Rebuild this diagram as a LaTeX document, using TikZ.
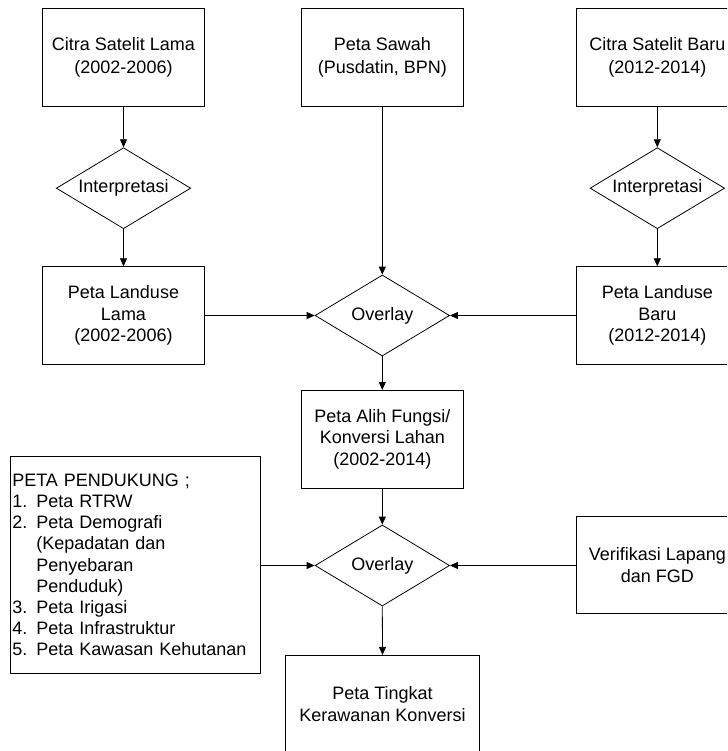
\documentclass[tikz,border=0pt]{standalone}
\usepackage{fontspec}
\setmainfont{Liberation Sans}
\usetikzlibrary{shapes.geometric,arrows.meta}
\begin{document}
\begin{tikzpicture}[x=1pt,y=-1pt,
  every node/.style={font=\fontsize{18}{21.6}\selectfont},
  box/.style={draw, line width=0.8pt, inner sep=0pt, align=center,
    minimum width=161.5pt, minimum height=97.6pt},
  topbox/.style={box, font=\fontsize{18}{23.5}\selectfont, minimum height=98.4pt},
  dec/.style={draw, shape=diamond, line width=0.8pt, inner sep=0pt,
    minimum width=134.5pt, minimum height=81pt, shape aspect=1.667},
  conn/.style={line width=0.8pt, -{Triangle[length=8pt,width=7pt]}},
]
\clip (0,0) rectangle (727,751);
\fill[white] (0,0) rectangle (727,751);

% top row
\node[topbox] (citraL) at (123.5,57.5) {Citra Satelit Lama\\(2002-2006)};
\node[topbox] (sawah)  at (382.3,57.5) {Peta Sawah\\(Pusdatin, BPN)};
\node[topbox] (citraB) at (657.3,57.5) {Citra Satelit Baru\\(2012-2014)};

% interpretation
\node[dec] (intL) at (123.5,188.2) {Interpretasi};
\node[dec] (intB) at (657.3,188.2) {Interpretasi};

% landuse
\node[box] (luL) at (123.5,315.5) {Peta Landuse\\Lama\\(2002-2006)};
\node[box] (luB) at (657.3,315.5) {Peta Landuse\\Baru\\(2012-2014)};

\node[dec] (ov1) at (382.3,315.5) {Overlay};

\node[box] (alih) at (382.3,439.2) {Peta Alih Fungsi/\\Konversi Lahan\\(2002-2014)};

\node[dec] (ov2) at (382.3,565.5) {Overlay};

\node[draw, line width=0.8pt, inner xsep=1.6pt, inner ysep=0pt,
  minimum width=249.3pt, minimum height=217pt, text width=246.1pt,
  align=left, font=\fontsize{18}{21.1}\selectfont] (peta) at (135.35,564.8)
  {PETA PENDUKUNG ;\\
   1. Peta RTRW\\
   2. Peta Demografi\\
   \hphantom{2. }(Kepadatan dan\\
   \hphantom{2. }Penyebaran\\
   \hphantom{2. }Penduduk)\\
   3. Peta Irigasi\\
   4. Peta Infrastruktur\\
   5. Peta Kawasan Kehutanan};

\node[box] (verif) at (657.3,565) {Verifikasi Lapang\\dan FGD};

\node[box, minimum width=193.6pt, minimum height=97.4pt] (tingkat) at (382.5,704)
  {Peta Tingkat\\Kerawanan Konversi};

% connectors
\draw[conn] (citraL.south) -- (intL.north);
\draw[conn] (intL.south) -- (luL.north);
\draw[conn] (citraB.south) -- (intB.north);
\draw[conn] (intB.south) -- (luB.north);
\draw[conn] (sawah.south) -- (ov1.north);
\draw[conn] (luL.east) -- (ov1.west);
\draw[conn] (luB.west) -- (ov1.east);
\draw[conn] (ov1.south) -- (alih.north);
\draw[conn] (alih.south) -- (ov2.north);
\draw[conn] (peta.east |- ov2.west) -- (ov2.west);
\draw[conn] (verif.west |- ov2.east) -- (ov2.east);
\draw[conn] (ov2.south) -- (tingkat.north);
\end{tikzpicture}
\end{document}
